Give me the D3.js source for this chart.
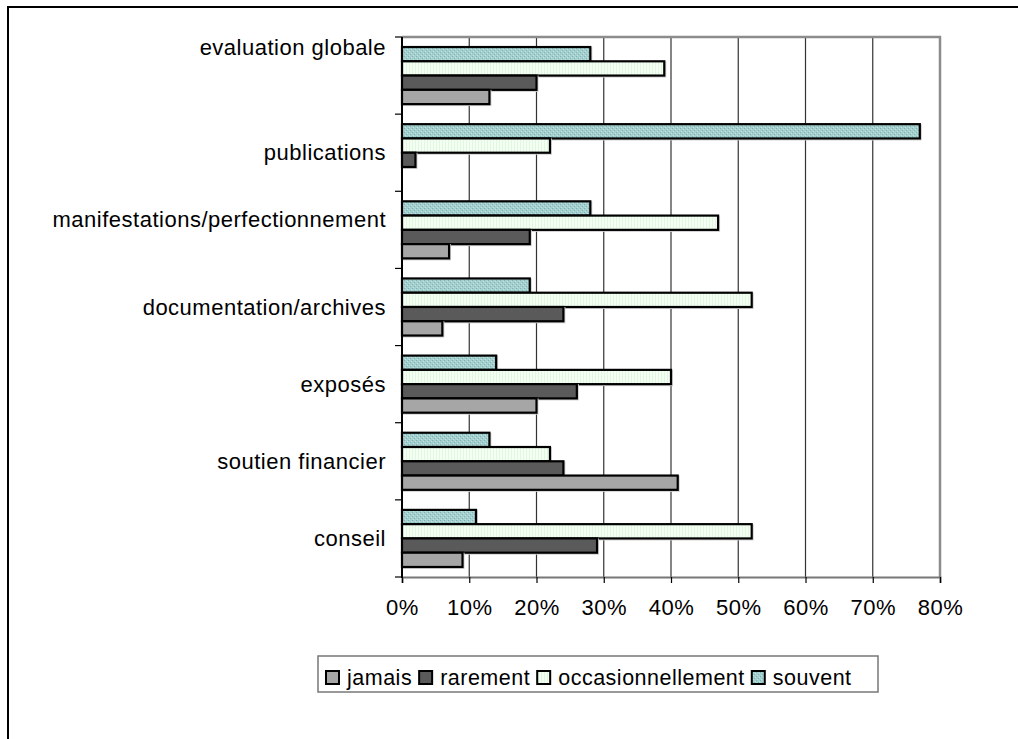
<!DOCTYPE html>
<html>
<head>
<meta charset="utf-8">
<script src="https://cdn.jsdelivr.net/npm/d3@7"></script>
<style>
  html, body { margin: 0; padding: 0; background: #fff; }
  svg { display: block; font-family: "Liberation Sans", Arial, sans-serif; }
</style>
</head>
<body>
<svg id="chart" width="1018" height="739"></svg>
<script>
// ---- data ----
const categories = ["evaluation globale", "publications", "manifestations/perfectionnement",
  "documentation/archives", "exposés", "soutien financier", "conseil"];
const series = ["jamais", "rarement", "occasionnellement", "souvent"];
const jamais            = [13, 0, 7, 6, 20, 41, 9];
const rarement          = [20, 2, 19, 24, 26, 24, 29];
const occasionnellement = [39, 22, 47, 52, 40, 22, 52];
const souvent           = [28, 77, 28, 19, 14, 13, 11];
const xTicks = [0, 10, 20, 30, 40, 50, 60, 70, 80];
const xTickLabels = ["0%", "10%", "20%", "30%", "40%", "50%", "60%", "70%", "80%"];

const valuesBySeries = { jamais, rarement, occasionnellement, souvent };

// ---- layout ----
const svg = d3.select("#chart");
const plot = { left: 402, right: 940, top: 37, bottom: 577 };
const fontSize = 22;
const letterSp = 0.5;

// patterns
const defs = svg.append("defs");
const pOcc = defs.append("pattern").attr("id", "pOcc").attr("patternUnits", "userSpaceOnUse")
  .attr("width", 3).attr("height", 3);
pOcc.append("rect").attr("width", 3).attr("height", 3).attr("fill", "#f3fff3");
pOcc.append("rect").attr("x", 1).attr("width", 1).attr("height", 3).attr("fill", "#e2f6e2");
const pSou = defs.append("pattern").attr("id", "pSou").attr("patternUnits", "userSpaceOnUse")
  .attr("width", 4).attr("height", 4);
pSou.append("rect").attr("width", 4).attr("height", 4).attr("fill", "#a3cfcf");
pSou.append("rect").attr("x", 0).attr("y", 0).attr("width", 1).attr("height", 1).attr("fill", "#7fb2b2");
pSou.append("rect").attr("x", 2).attr("y", 2).attr("width", 1).attr("height", 1).attr("fill", "#7fb2b2");
pSou.append("rect").attr("x", 1).attr("y", 3).attr("width", 1).attr("height", 1).attr("fill", "#c4e2e2");
pSou.append("rect").attr("x", 3).attr("y", 1).attr("width", 1).attr("height", 1).attr("fill", "#c4e2e2");

const fills = { jamais: "#a6a6a6", rarement: "#5a5a5a", occasionnellement: "url(#pOcc)", souvent: "url(#pSou)" };

// outer border
svg.append("rect").attr("x", 8).attr("y", 7).attr("width", 1030).attr("height", 760)
  .attr("fill", "none").attr("stroke", "#000").attr("stroke-width", 2);

const x = d3.scaleLinear().domain([0, 80]).range([plot.left, plot.right]);
const y0 = d3.scaleBand().domain(categories).range([plot.top, plot.bottom])
  .paddingInner(0.26).paddingOuter(0.13);
const barOrder = ["souvent", "occasionnellement", "rarement", "jamais"];
const y1 = d3.scaleBand().domain(barOrder).range([0, y0.bandwidth()]);
const step = y0.step();

// gridlines
svg.append("g").selectAll("line").data(xTicks.slice(1, -1)).join("line")
  .attr("x1", d => x(d)).attr("x2", d => x(d))
  .attr("y1", plot.top).attr("y2", plot.bottom)
  .attr("stroke", "#333").attr("stroke-width", 1.2);

// plot border top/right
svg.append("path")
  .attr("d", `M${plot.left},${plot.top}H${plot.right}V${plot.bottom}`)
  .attr("fill", "none").attr("stroke", "#8c8c8c").attr("stroke-width", 2.5);

// bars
categories.forEach((cat, i) => {
  barOrder.forEach(s => {
    const v = valuesBySeries[s][i];
    if (v <= 0) return;
    const yy = y0(cat) + y1(s);
    svg.append("rect")
      .attr("x", x(0) + 1).attr("y", yy + 1)
      .attr("width", x(v) - x(0)).attr("height", y1.bandwidth())
      .attr("fill", "none").attr("stroke", "#cfcfcf").attr("stroke-width", 2);
    svg.append("rect")
      .attr("x", x(0)).attr("y", yy)
      .attr("width", x(v) - x(0)).attr("height", y1.bandwidth())
      .attr("fill", fills[s]).attr("stroke", "#000").attr("stroke-width", 2.2);
  });
});

// x axis
const xAxis = d3.axisBottom(x).tickValues(xTicks).tickSize(6).tickPadding(16)
  .tickFormat((d, i) => xTickLabels[i]);
const gx = svg.append("g").attr("transform", `translate(0,${plot.bottom})`).call(xAxis);
gx.select(".domain").attr("stroke", "#777").attr("stroke-width", 2);
gx.selectAll(".tick line").attr("stroke", "#000").attr("stroke-width", 1.2);
gx.selectAll("text").attr("font-size", fontSize).attr("fill", "#000")
  .attr("letter-spacing", letterSp)
  .attr("font-family", "'Liberation Sans', Arial, sans-serif");

// y axis line and category ticks
svg.append("line").attr("x1", plot.left).attr("x2", plot.left)
  .attr("y1", plot.top).attr("y2", plot.bottom + 1).attr("stroke", "#000").attr("stroke-width", 2);
const boundaries = d3.range(categories.length + 1).map(k => plot.top + k * (plot.bottom - plot.top) / categories.length);
svg.append("g").selectAll("line").data(boundaries).join("line")
  .attr("x1", plot.left - 7).attr("x2", plot.left)
  .attr("y1", d => d).attr("y2", d => d)
  .attr("stroke", "#000").attr("stroke-width", 1.2);

// category labels (some original labels sit higher, as in the source)
const labelShift = { "evaluation globale": -28, "manifestations/perfectionnement": -11 };
svg.append("g").selectAll("text").data(categories).join("text")
  .attr("x", plot.left - 16)
  .attr("y", d => y0(d) - y0.paddingOuter() * step + step / 2 + (labelShift[d] || 0))
  .attr("dy", "0.35em")
  .attr("text-anchor", "end").attr("font-size", fontSize).attr("letter-spacing", letterSp)
  .attr("fill", "#000")
  .text(d => d);

// legend
const legend = svg.append("g");
legend.append("rect").attr("x", 318).attr("y", 656).attr("width", 560).attr("height", 36)
  .attr("fill", "#fff").attr("stroke", "#777").attr("stroke-width", 1.5);
let lx = 326;
series.forEach(s => {
  legend.append("rect").attr("x", lx).attr("y", 671).attr("width", 13).attr("height", 13)
    .attr("fill", fills[s]).attr("stroke", "#000").attr("stroke-width", 2);
  const t = legend.append("text").attr("x", lx + 21).attr("y", 685)
    .attr("font-size", 21.5).attr("letter-spacing", letterSp).attr("fill", "#000").text(s);
  lx += 21 + t.node().getComputedTextLength() + 7;
});
</script>
</body>
</html>
